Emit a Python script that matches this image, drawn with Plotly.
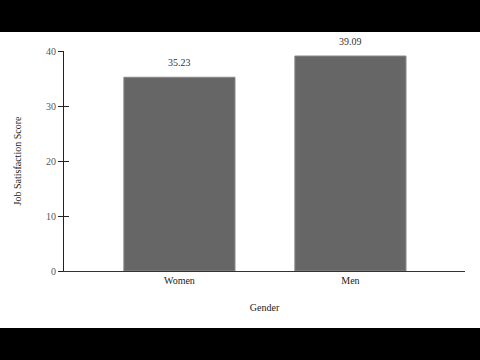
import plotly.graph_objects as go

categories = ["Women", "Men"]
scores = [35.23, 39.09]
score_labels = ["35.23", "39.09"]
y_ticks = [0, 10, 20, 30, 40]

FONT = "Liberation Serif"

fig = go.Figure()
fig.add_trace(go.Bar(
    x=categories, y=scores, width=0.65,
    marker=dict(color="#666666", line=dict(color="#8a8a8a", width=1)),
    showlegend=False, hoverinfo="skip",
))
# overlay trace to hold inside ticks on y axis
fig.add_trace(go.Scatter(x=categories, y=scores, yaxis="y2", mode="markers",
                         marker=dict(opacity=0), showlegend=False, hoverinfo="skip"))

for c, v, t in zip(categories, scores, score_labels):
    fig.add_annotation(x=c, y=v, text=t, showarrow=False, yshift=15,
                       font=dict(family=FONT, size=10, color="#333333"))

# black letterbox bands
fig.add_shape(type="rect", xref="paper", yref="paper", x0=-1, x1=2, y0=1.0864, y1=1.5,
              fillcolor="black", line_width=0, layer="above")
fig.add_shape(type="rect", xref="paper", yref="paper", x0=-1, x1=2, y0=-0.7, y1=-0.259,
              fillcolor="black", line_width=0, layer="above")

fig.update_layout(
    width=480, height=360,
    margin=dict(l=64, r=15, t=51, b=89),
    paper_bgcolor="white", plot_bgcolor="white",
    font=dict(family=FONT, size=10, color="#222222"),
    bargap=0.35,
    xaxis=dict(range=[-0.675, 1.67], showline=True, linecolor="#333333", linewidth=1,
               ticks="", showgrid=False, zeroline=False,
               title=dict(text="Gender", font=dict(family=FONT, size=10), standoff=18),
               tickfont=dict(family=FONT, size=10, color="#222222")),
    yaxis=dict(range=[0, 40], tickvals=y_ticks, showline=True, linecolor="#222222", linewidth=1,
               ticks="outside", ticklen=5, tickcolor="#222222", showgrid=False, zeroline=False,
               title=dict(text="Job Satisfaction Score", font=dict(family=FONT, size=10), standoff=22),
               tickfont=dict(family=FONT, size=10, color="#555555")),
    yaxis2=dict(range=[0, 40], overlaying="y", side="left", tickvals=y_ticks,
                ticks="inside", ticklen=5, tickcolor="#222222", showticklabels=False,
                showgrid=False, zeroline=False, showline=False),
)

fig.write_html("out.html")
